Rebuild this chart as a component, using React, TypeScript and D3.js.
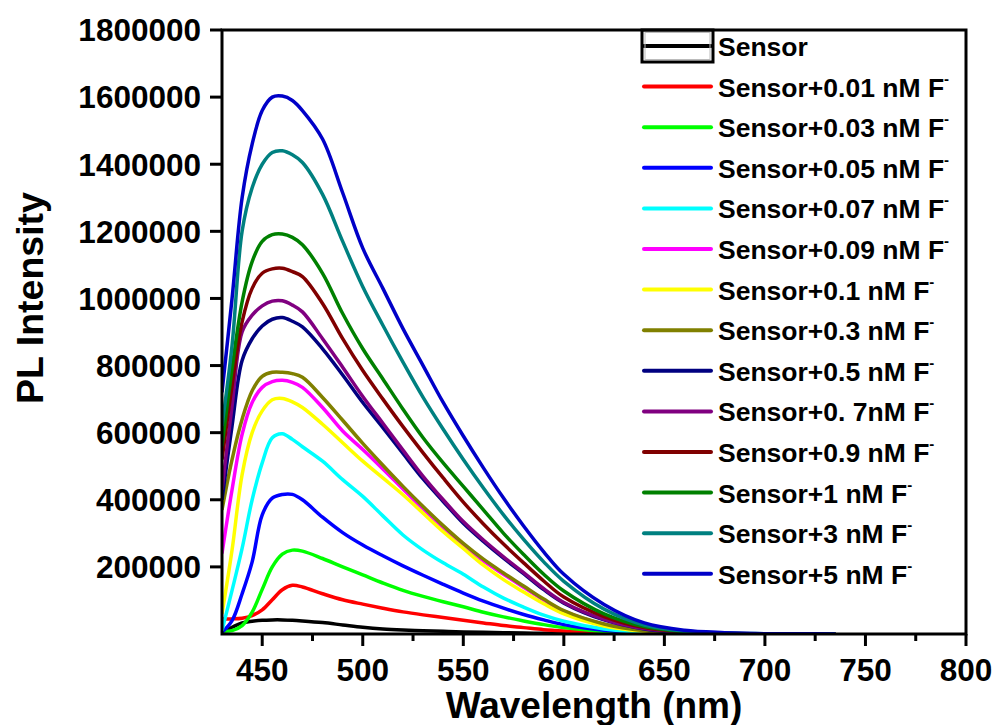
import React from "react";
import * as d3 from "d3";

const wavelengths = [430, 435, 440, 445, 450, 455, 460, 465, 470, 480, 490, 500, 510, 520, 530, 540, 550, 560, 570, 580, 590, 600, 620, 640, 660, 680, 700, 720, 735];

// values in thousands of counts
const sensor = [5, 20, 33, 38, 41, 42, 42, 41, 39, 34, 27, 20, 15, 12, 10, 8, 6, 5, 4, 3, 2, 2, 1, 0, 0, 0, 0, 0, 0];
const f001 = [45, 45, 47, 55, 72, 102, 132, 145, 140, 120, 102, 89, 77, 66, 57, 49, 41, 33, 25, 19, 13, 9, 3, 1, 0, 0, 0, 0, 0];
const f003 = [8, 10, 25, 65, 133, 200, 238, 250, 247, 225, 200, 176, 152, 130, 112, 96, 81, 65, 51, 39, 28, 19, 7, 2, 0, 0, 0, 0, 0];
const f005 = [5, 40, 120, 215, 355, 405, 416, 416, 400, 348, 302, 265, 233, 203, 175, 148, 122, 98, 77, 58, 42, 28, 11, 3, 1, 0, 0, 0, 0];
const f007 = [10, 130, 255, 400, 510, 585, 597, 580, 558, 515, 460, 410, 352, 295, 250, 212, 178, 140, 107, 80, 56, 38, 15, 5, 1, 0, 0, 0, 0];
const f009 = [240, 430, 595, 690, 735, 752, 756, 750, 735, 675, 605, 550, 492, 432, 373, 317, 265, 218, 178, 139, 101, 68, 29, 10, 3, 1, 0, 0, 0];
const f01 = [60, 250, 475, 600, 665, 698, 702, 692, 675, 625, 570, 515, 465, 415, 360, 305, 255, 205, 162, 125, 90, 60, 24, 8, 2, 0, 0, 0, 0];
const f03 = [370, 520, 640, 725, 768, 780, 780, 776, 765, 705, 637, 568, 503, 440, 380, 323, 270, 223, 182, 143, 104, 70, 30, 10, 3, 1, 0, 0, 0];
const f05 = [400, 620, 815, 880, 918, 938, 943, 932, 915, 850, 772, 690, 615, 538, 462, 395, 330, 276, 226, 180, 132, 92, 42, 15, 4, 1, 0, 0, 0];
const f07 = [430, 680, 900, 950, 978, 992, 993, 980, 960, 880, 795, 708, 628, 548, 470, 400, 335, 280, 230, 183, 135, 94, 44, 16, 5, 1, 0, 0, 0];
const f09 = [520, 740, 930, 1030, 1075, 1088, 1090, 1080, 1065, 985, 880, 785, 700, 618, 540, 465, 393, 328, 268, 212, 158, 110, 52, 19, 6, 2, 0, 0, 0];
const f1 = [560, 790, 990, 1110, 1170, 1190, 1192, 1182, 1160, 1075, 955, 850, 760, 670, 585, 510, 440, 370, 300, 237, 178, 128, 60, 22, 7, 2, 0, 0, 0];
const f3 = [620, 860, 1200, 1330, 1400, 1435, 1440, 1428, 1405, 1310, 1170, 1035, 920, 810, 705, 610, 520, 435, 355, 282, 215, 157, 74, 27, 9, 3, 1, 0, 0];
const f5 = [720, 1000, 1300, 1460, 1560, 1600, 1603, 1590, 1560, 1475, 1315, 1150, 1030, 910, 800, 690, 590, 495, 405, 322, 245, 178, 88, 33, 11, 4, 1, 1, 0];

const seriesNames = [
  "Sensor",
  "Sensor+0.01 nM F",
  "Sensor+0.03 nM F",
  "Sensor+0.05 nM F",
  "Sensor+0.07 nM F",
  "Sensor+0.09 nM F",
  "Sensor+0.1 nM F",
  "Sensor+0.3 nM F",
  "Sensor+0.5 nM F",
  "Sensor+0. 7nM F",
  "Sensor+0.9 nM F",
  "Sensor+1 nM F",
  "Sensor+3 nM F",
  "Sensor+5 nM F",
];
const seriesValues = [sensor, f001, f003, f005, f007, f009, f01, f03, f05, f07, f09, f1, f3, f5];
const seriesColors = ["#000000", "#FF0000", "#00FF00", "#0000FF", "#00FFFF", "#FF00FF", "#FFFF00", "#808000", "#000080", "#800080", "#800000", "#008000", "#008080", "#0000C8"];

const xTicks = [450, 500, 550, 600, 650, 700, 750, 800];
const xMinorTicks = [475, 525, 575, 625, 675, 725, 775];
const yTicks = [200000, 400000, 600000, 800000, 1000000, 1200000, 1400000, 1600000, 1800000];

const W = 996;
const H = 725;
const L = 222, R = 966, T = 30, B = 634;
const FONT = "'Liberation Sans', Arial, sans-serif";

export default function App() {
  const x = d3.scaleLinear().domain([430, 800]).range([L, R]);
  const y = d3.scaleLinear().domain([0, 1800000]).range([B, T]);
  const line = d3
    .line<[number, number]>()
    .x((d) => x(d[0]))
    .y((d) => y(d[1] * 1000))
    .curve(d3.curveCatmullRom.alpha(0.5));

  const legendX0 = 644, legendX1 = 711, legendTextX = 718;
  const legendY0 = 46, legendStep = 40.6;

  return (
    <svg width={W} height={H} style={{ position: "absolute", left: 0, top: 0, background: "#fff" }} fontFamily={FONT}>
      <rect x={0} y={0} width={W} height={H} fill="#fff" />
      <defs>
        <clipPath id="plotClip">
          <rect x={L} y={T} width={R - L} height={B - T} />
        </clipPath>
      </defs>
      <g clipPath="url(#plotClip)">
        {seriesValues.map((vals, i) => (
          <path
            key={i}
            d={line(wavelengths.map((w, j) => [w, vals[j]]) as [number, number][]) || ""}
            fill="none"
            stroke={seriesColors[i]}
            strokeWidth={3.5}
            strokeLinejoin="round"
          />
        ))}
      </g>
      {/* frame */}
      <rect x={L} y={T} width={R - L} height={B - T} fill="none" stroke="#000" strokeWidth={3} />
      {/* y ticks */}
      {yTicks.map((t) => (
        <g key={t}>
          <line x1={L - 12} x2={L} y1={y(t)} y2={y(t)} stroke="#000" strokeWidth={3} />
          <text x={201} y={y(t)} dy="0.36em" textAnchor="end" fontSize={31.5} fontWeight="bold">
            {t}
          </text>
        </g>
      ))}
      {/* x ticks */}
      {xTicks.map((t) => (
        <g key={t}>
          <line x1={x(t)} x2={x(t)} y1={B} y2={B + 12} stroke="#000" strokeWidth={3} />
          <text x={x(t)} y={681} textAnchor="middle" fontSize={31.5} fontWeight="bold">
            {t}
          </text>
        </g>
      ))}
      {xMinorTicks.map((t) => (
        <line key={t} x1={x(t)} x2={x(t)} y1={B} y2={B + 7} stroke="#000" strokeWidth={3} />
      ))}
      {/* axis titles */}
      <text x={(L + R) / 2} y={718} textAnchor="middle" fontSize={37} fontWeight="bold">
        Wavelength (nm)
      </text>
      <text transform={`translate(43, ${(T + B) / 2 - 34}) rotate(-90)`} textAnchor="middle" fontSize={37.5} fontWeight="bold">
        PL Intensity
      </text>
      {/* legend */}
      {seriesNames.map((name, i) => {
        const cy = legendY0 + i * legendStep;
        return (
          <g key={name}>
            <line x1={legendX0} x2={legendX1} y1={cy} y2={cy} stroke={seriesColors[i]} strokeWidth={4} strokeLinecap="round" />
            <text x={legendTextX} y={cy + 10} fontSize={26.5} fontWeight="bold">
              {name}
              {i > 0 ? (
                <tspan fontSize={15} dy={-13}>
                  -
                </tspan>
              ) : null}
            </text>
          </g>
        );
      })}
      <rect x={642} y={30} width={71} height={32} fill="none" stroke="#000" strokeWidth={3} />
      <rect x={645} y={32.5} width={65} height={27} fill="none" stroke="#bbb" strokeWidth={1} />
    </svg>
  );
}
